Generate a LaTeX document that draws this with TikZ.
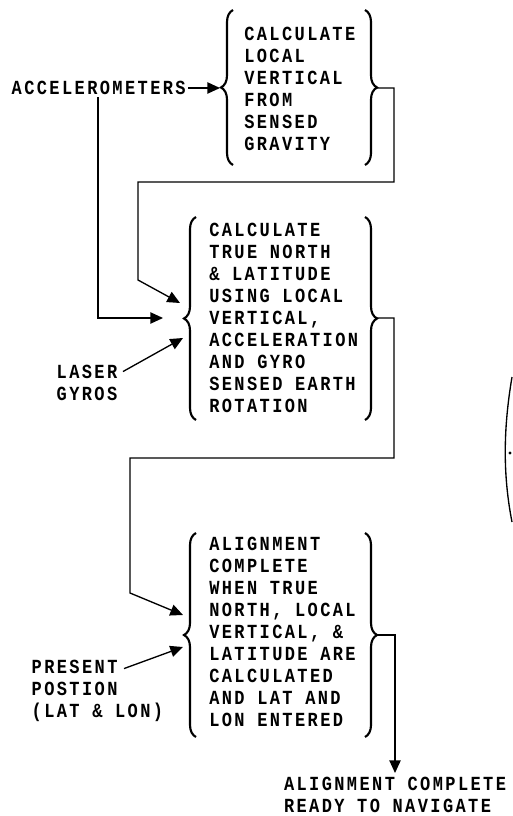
\documentclass[tikz,border=0pt]{standalone}
\usepackage{fontspec}
\usetikzlibrary{arrows.meta, decorations.pathreplacing}
\newfontfamily\plotfont[FakeStretch=0.85, LetterSpace=12]{Liberation Mono}

\begin{document}
\begin{tikzpicture}[
  x=0.75pt, y=-0.75pt,
  stage/.style={anchor=west, align=left, inner sep=0pt,
                font=\plotfont\bfseries\fontsize{15}{16.5}\selectfont},
  tag/.style={stage, outer sep=2pt},
  curly/.style={decorate, decoration={brace, amplitude=9pt}, line width=1.6pt},
  arrow/.style={-{Triangle[length=9.5pt, width=8.5pt]}, line width=1pt},
]
  \useasboundingbox (0,0) rectangle (512,816);

  % the three steps
  \node[stage] (calcvert) at (244,89) {CALCULATE\\LOCAL\\VERTICAL\\FROM\\SENSED\\GRAVITY};
  \node[stage] (calcnorth) at (209,318) {CALCULATE\\TRUE NORTH\\\& LATITUDE\\USING LOCAL\\VERTICAL,\\ACCELERATION\\AND GYRO\\SENSED EARTH\\ROTATION};
  \node[stage] (aligncheck) at (209,632) {ALIGNMENT\\COMPLETE\\WHEN TRUE\\NORTH, LOCAL\\VERTICAL, \&\\LATITUDE ARE\\CALCULATED\\AND LAT AND\\LON ENTERED};

  % inputs and result
  \node[tag] (accel) at (9,88) {ACCELEROMETERS};
  \node[tag] (lasergyros) at (54,383) {LASER\\GYROS};
  \node[tag] (presentpos) at (29,691) {PRESENT\\POSTION\\(LAT \& LON)};
  \node[tag, anchor=north west, outer sep=3pt] (ready) at (280,773) {ALIGNMENT COMPLETE\\READY TO NAVIGATE};

  % braces
  \draw[curly] (233,165) -- (233,10);
  \draw[curly] (365,10) -- (365,165);
  \draw[curly] (196,420) -- (196,217);
  \draw[curly] (365,217) -- (365,420);
  \draw[curly] (196,737) -- (196,533);
  \draw[curly] (365,533) -- (365,737);

  \coordinate (v1in) at (220,88);
  \coordinate (v1out) at (377,88);
  \coordinate (n2top) at (180,303);
  \coordinate (n2mid) at (163,318);
  \coordinate (n2low) at (183,338);
  \coordinate (n2out) at (377,318);
  \coordinate (n3top) at (183,615);
  \coordinate (n3low) at (183,647);
  \coordinate (n3out) at (377,635);

  \draw[arrow] (accel) -- (v1in);
  \draw[arrow] ([shift={(89,0)}]accel.south west) |- (n2mid);
  \draw[arrow] (v1out) -| (394,182) -| (138,280) -- (n2top);
  \draw[arrow] ([shift={(69,9)}]lasergyros.north west) -- (n2low);
  \draw[arrow] (n2out) -| (394,458) -| (130,593) -- (n3top);
  \draw[arrow] ([shift={(95,11)}]presentpos.north west) -- (n3low);
  \draw[arrow] (n3out) -| (ready);

  % edge of the next figure
  \draw[line width=1pt] (512,377) .. controls (503,430) and (503,476) .. (512,522);
  \fill (510,453) circle (1.2pt);
\end{tikzpicture}
\end{document}
